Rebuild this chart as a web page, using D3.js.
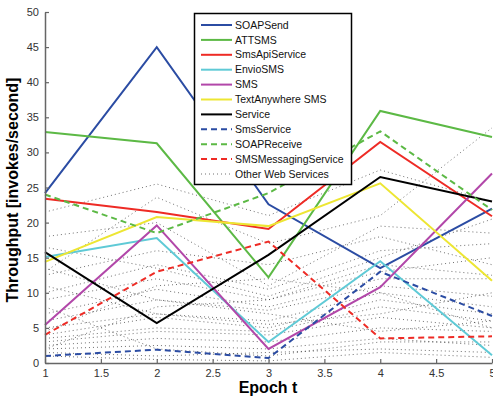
<!DOCTYPE html>
<html>
<head>
<meta charset="utf-8">
<script src="https://cdn.jsdelivr.net/npm/d3@7"></script>
<style>
  body { margin: 0; background: #fff; }
  svg { display: block; font-family: "Liberation Sans", Arial, sans-serif; }
</style>
</head>
<body>
<svg id="chart" width="493" height="399"></svg>
<script>
// epochs on the x axis
const epochs = [1, 2, 3, 4, 5];

// named services (throughput per epoch)
const soapSend = [24.2, 45.0, 22.6, 13.5, 22.0];
const attSms = [32.9, 31.3, 12.2, 35.9, 32.2];
const smsApiService = [23.4, 21.5, 19.1, 31.5, 20.9];
const envioSms = [15.1, 17.8, 3.0, 14.5, 1.1];
const sms = [5.4, 19.6, 2.0, 10.8, 27.0];
const textAnywhereSms = [14.4, 20.8, 19.5, 25.6, 11.7];
const service = [15.8, 5.7, 15.4, 26.5, 23.0];
const smsService = [1.0, 1.9, 0.7, 13.0, 6.7];
const soapReceive = [24.0, 18.5, 24.2, 33.0, 21.8];
const smsMessagingService = [4.0, 13.0, 17.3, 3.5, 3.8];

// the dotted "Other Web Services" bundle
const otherServices = [
  [21.5, 25.5, 21.0, 27.5, 23.0],
  [13.0, 23.6, 17.0, 21.0, 33.5],
  [12.5, 16.0, 14.0, 18.0, 14.0],
  [10.0, 14.0, 10.5, 16.0, 17.0],
  [9.0, 12.0, 9.0, 13.0, 15.0],
  [7.0, 10.5, 8.0, 12.0, 12.0],
  [6.0, 9.0, 7.5, 11.0, 9.5],
  [5.0, 7.0, 6.0, 10.0, 8.0],
  [4.0, 6.5, 5.0, 9.0, 7.0],
  [3.5, 5.0, 4.5, 8.0, 6.0],
  [3.0, 4.5, 4.0, 6.5, 5.0],
  [2.5, 3.5, 3.0, 5.0, 4.5],
  [2.0, 2.5, 2.0, 3.5, 2.5],
  [1.5, 1.0, 1.5, 2.0, 1.5],
  [11.0, 7.0, 5.5, 7.0, 10.0],
  [13.5, 9.0, 7.0, 4.5, 6.0],
  [8.0, 2.0, 1.0, 3.0, 3.0],
  [4.5, 11.0, 12.0, 10.0, 5.0],
  [2.0, 8.0, 9.0, 14.0, 12.5],
  [1.0, 0.5, 0.3, 1.5, 0.8],
  [18.0, 20.0, 11.0, 19.5, 18.5],
  [16.5, 13.5, 9.5, 15.0, 20.5]
];

const xTicks = [1, 1.5, 2, 2.5, 3, 3.5, 4, 4.5, 5];
const yTicks = [0, 5, 10, 15, 20, 25, 30, 35, 40, 45, 50];

const series = [
  {name: 'SOAPSend', values: soapSend, color: '#2b4ca3', dash: null},
  {name: 'ATTSMS', values: attSms, color: '#5cb945', dash: null},
  {name: 'SmsApiService', values: smsApiService, color: '#ee2b25', dash: null},
  {name: 'EnvioSMS', values: envioSms, color: '#5fcad6', dash: null},
  {name: 'SMS', values: sms, color: '#b247a9', dash: null},
  {name: 'TextAnywhere SMS', values: textAnywhereSms, color: '#ede633', dash: null},
  {name: 'Service', values: service, color: '#000000', dash: null},
  {name: 'SmsService', values: smsService, color: '#2b4ca3', dash: '6,4'},
  {name: 'SOAPReceive', values: soapReceive, color: '#5cb945', dash: '6,4'},
  {name: 'SMSMessagingService', values: smsMessagingService, color: '#ee2b25', dash: '6,4'}
];

const svg = d3.select('#chart');
const margin = {left: 45, top: 12, right: 1, bottom: 36};
const width = 493 - margin.left - margin.right;
const height = 399 - margin.top - margin.bottom;

const x = d3.scaleLinear().domain([1, 5]).range([margin.left, margin.left + width]);
const y = d3.scaleLinear().domain([0, 50]).range([margin.top + height, margin.top]);

const line = d3.line()
  .x((d, i) => x(epochs[i]))
  .y(d => y(d));

// other services first, underneath
svg.append('g')
  .selectAll('path')
  .data(otherServices)
  .join('path')
  .attr('d', line)
  .attr('fill', 'none')
  .attr('stroke', '#333')
  .attr('stroke-opacity', 0.7)
  .attr('stroke-width', 1)
  .attr('stroke-dasharray', '1,3');

svg.append('g')
  .selectAll('path')
  .data(series)
  .join('path')
  .attr('d', d => line(d.values))
  .attr('fill', 'none')
  .attr('stroke', d => d.color)
  .attr('stroke-width', 2)
  .attr('stroke-dasharray', d => d.dash);

// axes, matlab-ish: ticks pointing inwards, no box
const xAxis = d3.axisBottom(x).tickValues(xTicks).tickSizeInner(-4).tickSizeOuter(0).tickPadding(6)
  .tickFormat(d3.format('~g'));
const yAxis = d3.axisLeft(y).tickValues(yTicks).tickSizeInner(-4).tickSizeOuter(0).tickPadding(6);

const gx = svg.append('g')
  .attr('transform', `translate(0,${margin.top + height})`)
  .call(xAxis);
const gy = svg.append('g')
  .attr('transform', `translate(${margin.left},0)`)
  .call(yAxis);

[gx, gy].forEach(g => {
  g.select('.domain').attr('stroke', '#666').attr('stroke-width', 1.5);
  g.selectAll('.tick line').attr('stroke', '#666').attr('stroke-width', 1.2);
  g.selectAll('.tick text').attr('fill', '#333').style('font-size', '11px')
    .style('font-family', '"Liberation Sans", Arial, sans-serif');
});

svg.append('text')
  .attr('x', 268)
  .attr('y', 393)
  .attr('text-anchor', 'middle')
  .style('font-size', '16px')
  .style('font-weight', 'bold')
  .text('Epoch t');

svg.append('text')
  .attr('transform', 'translate(18,190) rotate(-90)')
  .attr('text-anchor', 'middle')
  .style('font-size', '16px')
  .style('font-weight', 'bold')
  .text('Throughput [invokes/second]');

// legend
const legendItems = series.concat([{name: 'Other Web Services', color: '#333', dash: '1,3', other: true}]);
const legend = svg.append('g');
legend.append('rect')
  .attr('x', 194.5)
  .attr('y', 13.5)
  .attr('width', 157)
  .attr('height', 171)
  .attr('fill', '#fff')
  .attr('stroke', '#000')
  .attr('stroke-width', 1.5);

const rows = legend.selectAll('g.row')
  .data(legendItems)
  .join('g')
  .attr('class', 'row')
  .attr('transform', (d, i) => `translate(0,${25 + i * 14.9})`);

rows.append('line')
  .attr('x1', 201)
  .attr('x2', 232)
  .attr('stroke', d => d.color)
  .attr('stroke-width', d => d.other ? 1 : 2)
  .attr('stroke-dasharray', d => d.dash)
  .attr('stroke-opacity', d => d.other ? 0.7 : 1);

rows.append('text')
  .attr('x', 235)
  .attr('dy', '0.35em')
  .style('font-size', '10.5px')
  .attr('fill', '#111')
  .text(d => d.name);
</script>
</body>
</html>
